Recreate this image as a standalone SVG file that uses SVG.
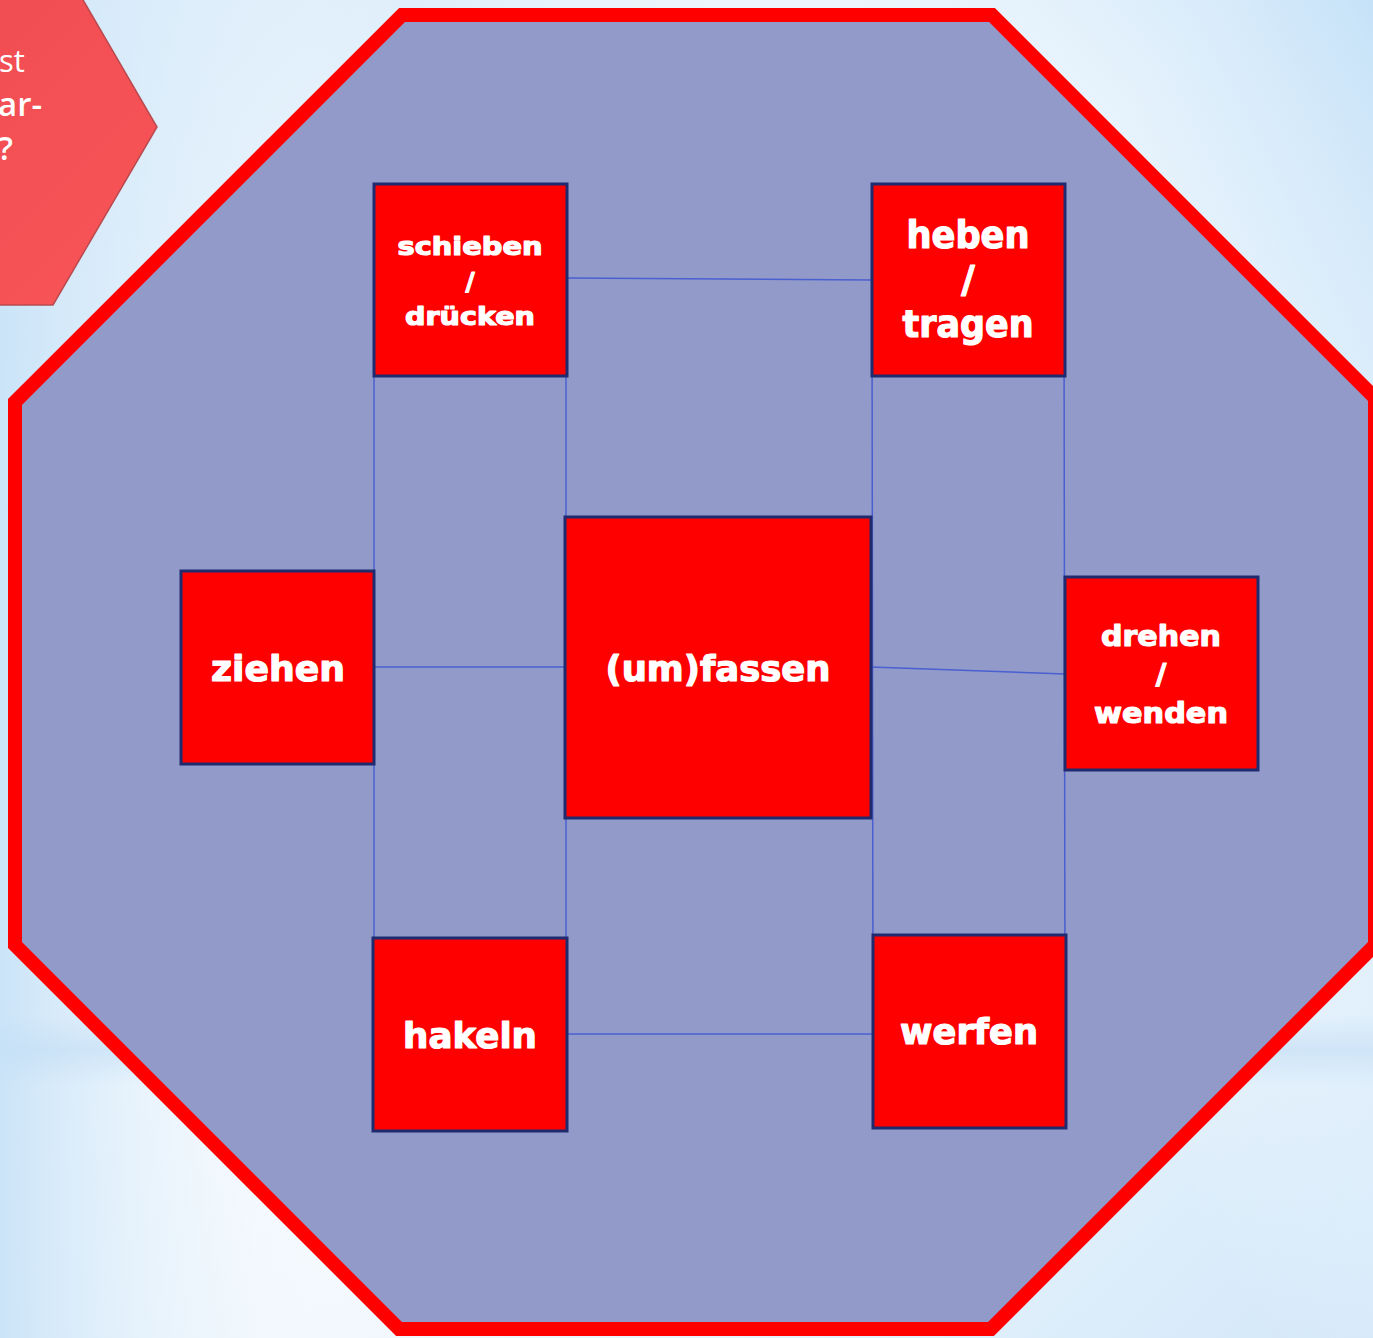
<svg xmlns="http://www.w3.org/2000/svg" width="1373" height="1338" viewBox="0 0 1373 1338">
<defs>
<linearGradient id="bg" x1="0" y1="0" x2="1" y2="1">
<stop offset="0" stop-color="#cfe6f8"/>
<stop offset="0.45" stop-color="#ffffff"/>
<stop offset="1" stop-color="#d3e8f9"/>
</linearGradient>
<linearGradient id="bg2" x1="1" y1="0" x2="0" y2="0.6">
<stop offset="0" stop-color="#c6e2f8"/>
<stop offset="0.5" stop-color="#ffffff" stop-opacity="0"/>
</linearGradient>
<linearGradient id="bg3" x1="0" y1="0" x2="1" y2="0">
<stop offset="0" stop-color="#cbe4f8"/>
<stop offset="0.3" stop-color="#ffffff" stop-opacity="0"/>
</linearGradient>
<linearGradient id="band" x1="0" y1="0" x2="0" y2="1">
<stop offset="0" stop-color="#c3def5" stop-opacity="0"/>
<stop offset="0.5" stop-color="#c3def5" stop-opacity="0.6"/>
<stop offset="1" stop-color="#c3def5" stop-opacity="0"/>
</linearGradient>
<linearGradient id="hex" x1="0" y1="0" x2="1" y2="1">
<stop offset="0" stop-color="#ec4950"/>
<stop offset="1" stop-color="#f95558"/>
</linearGradient>
<style>
.node rect{fill:#ff0000;stroke:#1f2b6e;stroke-width:3}
.node text{font-family:"DejaVu Sans",Verdana,sans-serif;font-weight:bold;fill:#ffffff;stroke:#ffffff;stroke-width:1.2;stroke-linejoin:round;text-anchor:middle}
.conn line{stroke:#4a5fd0;stroke-width:1.5}
.hextext{font-family:"Open Sans","Liberation Sans",sans-serif;fill:#ffffff;font-size:31px}
.hexbold{font-weight:600;font-size:33px}
</style>
</defs>
<rect x="0" y="0" width="1373" height="1338" fill="url(#bg)"/>
<rect x="0" y="0" width="1373" height="1338" fill="url(#bg2)"/>
<rect x="0" y="0" width="1373" height="1338" fill="url(#bg3)"/>
<rect x="0" y="1015" width="1373" height="70" fill="url(#band)"/>

<g id="hexagon">
<polygon points="-200,-50 54,-50 157,127 53,305 -200,305" fill="url(#hex)" stroke="#b94a4f" stroke-width="1.5"/>
<text class="hextext" x="-1" y="72">st</text>
<text class="hextext hexbold" x="-2" y="116">ar-</text>
<text class="hextext hexbold" x="-2" y="160">?</text>
</g>

<g id="octagon">
<polygon points="402,15 992,15 1375,398 1375,945 991,1329 399,1329 15,945 15,402" fill="#929aca" stroke="#ff0000" stroke-width="14" stroke-linejoin="miter"/>
</g>

<g id="connectors" class="conn">
<line x1="567" y1="278" x2="872" y2="280"/>
<line x1="374" y1="280" x2="374" y2="1035"/>
<line x1="566" y1="278" x2="566" y2="1035"/>
<line x1="872" y1="280" x2="873" y2="1032"/>
<line x1="1064" y1="280" x2="1065" y2="1032"/>
<line x1="374" y1="667" x2="565" y2="667"/>
<line x1="871" y1="667" x2="1065" y2="674"/>
<line x1="567" y1="1034" x2="873" y2="1034"/>
</g>

<g id="n-schieben" class="node">
<rect x="374" y="184" width="193" height="192"/>
<text x="470" y="255" font-size="25" textLength="145" lengthAdjust="spacingAndGlyphs">schieben</text>
<text x="470" y="290" font-size="25">/</text>
<text x="470" y="325" font-size="25" textLength="130" lengthAdjust="spacingAndGlyphs">drücken</text>
</g>

<g id="n-heben" class="node">
<rect x="872" y="184" width="193" height="192"/>
<text x="968" y="248" font-size="37" textLength="123" lengthAdjust="spacingAndGlyphs">heben</text>
<text x="968" y="292" font-size="37">/</text>
<text x="968" y="337" font-size="37" textLength="131" lengthAdjust="spacingAndGlyphs">tragen</text>
</g>

<g id="n-ziehen" class="node">
<rect x="181" y="571" width="193" height="193"/>
<text x="278" y="681" font-size="36" textLength="134" lengthAdjust="spacingAndGlyphs">ziehen</text>
</g>

<g id="n-fassen" class="node">
<rect x="565" y="517" width="306" height="301"/>
<text x="718" y="681" font-size="36" textLength="225" lengthAdjust="spacingAndGlyphs">(um)fassen</text>
</g>

<g id="n-drehen" class="node">
<rect x="1065" y="577" width="193" height="193"/>
<text x="1161" y="646" font-size="29" textLength="120" lengthAdjust="spacingAndGlyphs">drehen</text>
<text x="1161" y="684" font-size="29">/</text>
<text x="1161" y="723" font-size="29" textLength="134" lengthAdjust="spacingAndGlyphs">wenden</text>
</g>

<g id="n-hakeln" class="node">
<rect x="373" y="938" width="194" height="193"/>
<text x="470" y="1048" font-size="36" textLength="134" lengthAdjust="spacingAndGlyphs">hakeln</text>
</g>

<g id="n-werfen" class="node">
<rect x="873" y="935" width="193" height="193"/>
<text x="969" y="1044" font-size="36" textLength="138" lengthAdjust="spacingAndGlyphs">werfen</text>
</g>
</svg>
